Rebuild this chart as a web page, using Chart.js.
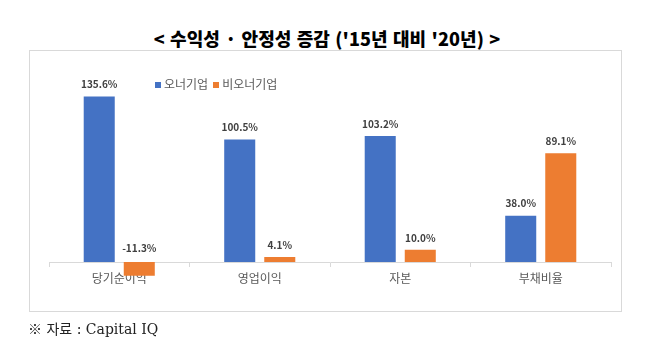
<!DOCTYPE html>
<html><head><meta charset="utf-8">
<script src="https://cdn.jsdelivr.net/npm/chart.js@4.4.0/dist/chart.umd.min.js"></script>
<style>
html,body{margin:0;padding:0;background:#fff;}
#wrap{position:relative;width:648px;height:355px;overflow:hidden;}
#title{position:absolute;left:0;top:26px;width:654px;text-align:center;font-family:"Noto Sans CJK KR",sans-serif;font-weight:900;font-size:18px;letter-spacing:0.1px;word-spacing:1px;color:#000;line-height:24px;}
#box{position:absolute;left:29px;top:50px;width:593px;height:262px;border:1px solid #d9d9d9;box-sizing:border-box;}
#legend{position:absolute;left:155px;top:75px;font-family:"Noto Sans CJK KR",sans-serif;font-size:12px;color:#595959;white-space:nowrap;line-height:18px;}
#legend span.sw{display:inline-block;width:6px;height:6px;margin-right:3px;vertical-align:1px;}
#legend span.it{margin-right:5px;}
#note{position:absolute;left:28px;top:318px;font-family:"DejaVu Serif","Noto Sans CJK KR",serif;font-size:14px;color:#222;white-space:pre;}
canvas{position:absolute;left:0;top:0;}
</style></head>
<body><div id="wrap">
<div id="title">&lt; 수익성 · 안정성 증감 ('15년 대비 '20년) &gt;</div>
<div id="box"></div>
<canvas id="c" width="648" height="355"></canvas>
<div id="legend"></div>
<div id="note">※ 자료 : Capital IQ</div>
</div>
<script>
const categories = ['당기순이익', '영업이익', '자본', '부채비율'];
const seriesNames = ['오너기업', '비오너기업'];
const ownerValues = [135.6, 100.5, 103.2, 38.0];
const nonOwnerValues = [-11.3, 4.1, 10.0, 89.1];
const colors = ['#4472C4', '#ED7D31'];

const labelPlugin = {
  id: 'vals',
  afterDatasetsDraw(chart) {
    const ctx = chart.ctx;
    ctx.save();
    ctx.font = 'bold 10px "Noto Sans CJK KR", sans-serif';
    ctx.fillStyle = '#404040';
    ctx.textAlign = 'center';
    ctx.textBaseline = 'middle';
    chart.data.datasets.forEach((ds, di) => {
      chart.getDatasetMeta(di).data.forEach((bar, i) => {
        const v = ds.data[i];
        const top = Math.min(bar.y, bar.base);
        const off = v < 0 ? 14 : 12;
        ctx.fillText(v.toFixed(1) + '%', bar.x, top - off);
      });
    });
    ctx.restore();
  }
};

const chart = new Chart(document.getElementById('c'), {
  type: 'bar',
  data: {
    labels: categories,
    datasets: [
      { label: seriesNames[0], data: ownerValues, backgroundColor: colors[0] },
      { label: seriesNames[1], data: nonOwnerValues, backgroundColor: colors[1] }
    ]
  },
  options: {
    responsive: false,
    animation: false,
    events: [],
    categoryPercentage: 0.57,
    barPercentage: 0.775,
    layout: { padding: { left: 49, right: 37, top: 79, bottom: 68.6 } },
    plugins: { legend: { display: false }, tooltip: { enabled: false } },
    scales: {
      y: { display: false, min: -20, max: 150 },
      x: {
        position: { y: 0 },
        z: 1,
        grid: { display: true, offset: true, drawOnChartArea: false, drawTicks: true, tickLength: 4, color: '#d9d9d9' },
        border: { display: true, color: '#d9d9d9', width: 1 },
        ticks: { color: '#595959', font: { family: '"Noto Sans CJK KR", sans-serif', size: 12 }, padding: 5 }
      }
    }
  },
  plugins: [labelPlugin]
});

const lg = document.getElementById('legend');
chart.data.datasets.forEach((ds) => {
  const it = document.createElement('span');
  it.className = 'it';
  const sw = document.createElement('span');
  sw.className = 'sw';
  sw.style.background = ds.backgroundColor;
  it.appendChild(sw);
  it.appendChild(document.createTextNode(ds.label));
  lg.appendChild(it);
});
</script>
</body></html>
